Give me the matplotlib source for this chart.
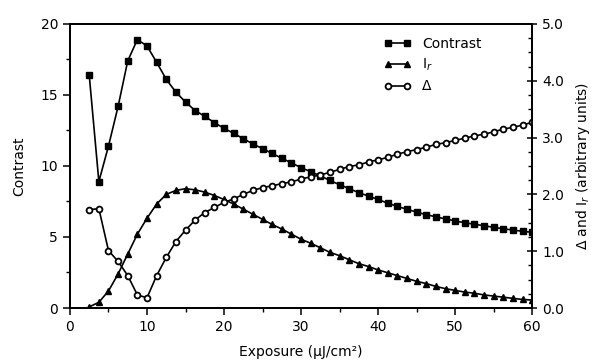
import matplotlib
matplotlib.use("Agg")
import matplotlib.pyplot as plt
from matplotlib.ticker import MultipleLocator

plt.rcParams['font.family'] = ['DejaVu Sans']

# ================= DATA =================
exposure = [2.5, 3.75, 5.0, 6.25, 7.5, 8.75, 10.0, 11.25, 12.5, 13.75,
            15.0, 16.25, 17.5, 18.75, 20.0, 21.25, 22.5, 23.75, 25.0, 26.25,
            27.5, 28.75, 30.0, 31.25, 32.5, 33.75, 35.0, 36.25, 37.5, 38.75,
            40.0, 41.25, 42.5, 43.75, 45.0, 46.25, 47.5, 48.75, 50.0, 51.25,
            52.5, 53.75, 55.0, 56.25, 57.5, 58.75, 60.0]

contrast = [16.4, 8.9, 11.4, 14.2, 17.4, 18.9, 18.45, 17.3, 16.1, 15.2,
            14.5, 13.9, 13.5, 13.05, 12.65, 12.3, 11.92, 11.55, 11.22, 10.88,
            10.54, 10.22, 9.88, 9.6, 9.3, 8.98, 8.68, 8.4, 8.12, 7.88,
            7.64, 7.38, 7.15, 6.95, 6.75, 6.57, 6.42, 6.27, 6.13, 6.0,
            5.9, 5.79, 5.68, 5.58, 5.49, 5.40, 5.33]

i_r = [0.02, 0.10, 0.30, 0.60, 0.95, 1.30, 1.58, 1.83, 2.00, 2.07,
       2.10, 2.08, 2.04, 1.98, 1.91, 1.83, 1.74, 1.65, 1.56, 1.47,
       1.39, 1.30, 1.21, 1.14, 1.06, 0.98, 0.92, 0.85, 0.78, 0.73,
       0.67, 0.62, 0.57, 0.52, 0.47, 0.43, 0.38, 0.34, 0.31, 0.28,
       0.26, 0.23, 0.21, 0.19, 0.17, 0.15, 0.14]

delta = [1.73, 1.75, 1.01, 0.82, 0.57, 0.23, 0.18, 0.57, 0.89, 1.17,
         1.37, 1.55, 1.68, 1.77, 1.86, 1.92, 2.00, 2.07, 2.12, 2.15,
         2.19, 2.22, 2.27, 2.31, 2.34, 2.39, 2.44, 2.49, 2.52, 2.57,
         2.61, 2.65, 2.71, 2.75, 2.79, 2.83, 2.88, 2.91, 2.95, 2.99,
         3.03, 3.06, 3.10, 3.15, 3.18, 3.22, 3.27]

# ================= CHART =================
fig = plt.figure(figsize=(5.98, 3.63), dpi=100)
ax = fig.add_axes([0.117, 0.1515, 0.773, 0.7825])
ax2 = ax.twinx()

l1, = ax.plot(exposure, contrast, color="black", lw=1.2, marker="s",
              ms=4.5, label="Contrast")
l2, = ax2.plot(exposure, i_r, color="black", lw=1.2, marker="^",
               ms=4.5, label="I$_r$")
l3, = ax2.plot(exposure, delta, color="black", lw=1.2, marker="o",
               ms=4.2, mfc="white", mew=1.3, label="Δ")

ax.set_xlim(0, 60)
ax.set_ylim(0, 20)
ax2.set_ylim(0, 5)

ax.xaxis.set_major_locator(MultipleLocator(10))
ax.xaxis.set_minor_locator(MultipleLocator(5))
ax.yaxis.set_major_locator(MultipleLocator(5))
ax.yaxis.set_minor_locator(MultipleLocator(2.5))
ax2.yaxis.set_major_locator(MultipleLocator(1))
ax2.yaxis.set_minor_locator(MultipleLocator(0.25))
ax2.set_yticks([0, 1, 2, 3, 4, 5])
ax2.set_yticklabels(["0.0", "1.0", "2.0", "3.0", "4.0", "5.0"])

ax.tick_params(which="major", direction="out", length=5, width=1.1,
               labelsize=10, top=False)
ax.tick_params(which="minor", direction="out", length=3, width=1)
ax2.tick_params(which="major", direction="inout", length=7, width=1.1,
                labelsize=10)
ax2.tick_params(which="minor", direction="in", length=3, width=1)

for a in (ax, ax2):
    for s in a.spines.values():
        s.set_linewidth(1.3)

ax.set_xlabel("Exposure (μJ/cm²)", fontsize=10, labelpad=8)
ax.set_ylabel("Contrast", fontsize=10, labelpad=10)
ax2.set_ylabel("Δ and I$_r$ (arbitrary units)", fontsize=10, labelpad=7)

ax.legend(handles=[l1, l2, l3], loc="upper left",
          bbox_to_anchor=(0.66, 0.985), frameon=False, numpoints=2,
          fontsize=10, handlelength=2.0, labelspacing=0.45,
          handletextpad=0.8, borderaxespad=0.2)

fig.savefig("out.png", dpi=100)
plt.close(fig)
